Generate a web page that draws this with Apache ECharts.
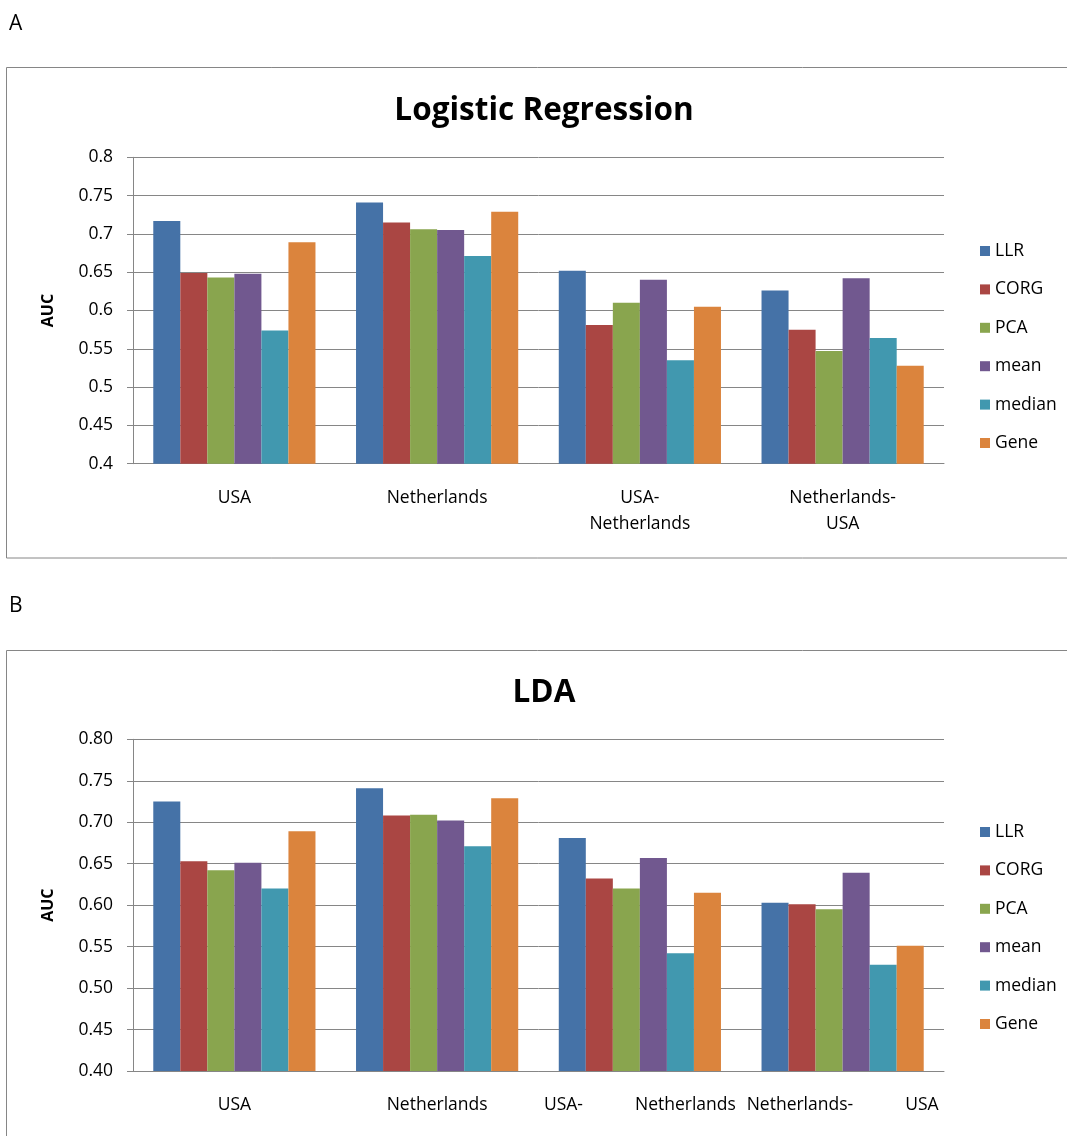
<!DOCTYPE html>
<html>
<head>
<meta charset="utf-8">
<title>AUC by method: Logistic Regression and LDA</title>
<script src="https://cdn.jsdelivr.net/npm/echarts@6/dist/echarts.min.js"></script>
<style>
  html, body { margin: 0; padding: 0; background: #ffffff; }
  #chart { width: 1067px; height: 1136px; }
</style>
</head>
<body>
<div id="chart"></div>
<script>
// Cohort categories (training-test pairs)
const categories = ['USA', 'Netherlands', 'USA-Netherlands', 'Netherlands-USA'];
const methods = ['LLR', 'CORG', 'PCA', 'mean', 'median', 'Gene'];
const yTicks = [0.4, 0.45, 0.5, 0.55, 0.6, 0.65, 0.7, 0.75, 0.8];

// Panel A: logistic regression AUC, one array per method (order follows categories)
const lrLLR    = [0.717, 0.741, 0.652, 0.626];
const lrCORG   = [0.649, 0.715, 0.581, 0.575];
const lrPCA    = [0.643, 0.706, 0.610, 0.547];
const lrMean   = [0.648, 0.705, 0.640, 0.642];
const lrMedian = [0.574, 0.671, 0.535, 0.564];
const lrGene   = [0.689, 0.729, 0.605, 0.528];

// Panel B: LDA AUC
const ldaLLR    = [0.725, 0.741, 0.681, 0.603];
const ldaCORG   = [0.653, 0.708, 0.632, 0.601];
const ldaPCA    = [0.642, 0.709, 0.620, 0.595];
const ldaMean   = [0.651, 0.702, 0.657, 0.639];
const ldaMedian = [0.620, 0.671, 0.542, 0.528];
const ldaGene   = [0.689, 0.729, 0.615, 0.551];

const lrValues  = [lrLLR, lrCORG, lrPCA, lrMean, lrMedian, lrGene];
const ldaValues = [ldaLLR, ldaCORG, ldaPCA, ldaMean, ldaMedian, ldaGene];

const colors = ['#4572A7', '#AA4643', '#89A54E', '#71588F', '#4198AF', '#DB843D'];
const FONT = '"Open Sans", "Noto Sans", sans-serif';
const GRID_LINE = '#868686';
const LABEL_SIZE = 17.5;

const chart = echarts.init(document.getElementById('chart'), null, { renderer: 'canvas' });

function yAxisFor(gridIndex, decimals) {
  return {
    gridIndex: gridIndex,
    type: 'value',
    min: yTicks[0],
    max: yTicks[yTicks.length - 1],
    interval: 0.05,
    name: 'AUC',
    nameLocation: 'middle',
    nameGap: 77,
    nameRotate: 90,
    nameTextStyle: { fontFamily: FONT, fontWeight: 'bold', fontSize: 16, color: '#000' },
    axisLine: { show: true, lineStyle: { color: GRID_LINE, width: 1 } },
    axisTick: { show: true, length: 6, lineStyle: { color: GRID_LINE } },
    axisLabel: {
      fontFamily: FONT, fontSize: LABEL_SIZE, color: '#000', margin: 20,
      formatter: function (v) {
        return decimals ? v.toFixed(2) : String(parseFloat(v.toFixed(2)));
      }
    },
    splitLine: { show: true, lineStyle: { color: GRID_LINE, width: 1 } }
  };
}

// Panel A wraps the pair names on two lines
function labelTwoLine(v) {
  return v.replace('-', '-\n');
}

// Panel B spreads the pair names across the category width on one line
function labelSpread(v) {
  const i = v.indexOf('-');
  if (i < 0) return v;
  return v.slice(0, i + 1) + '{gap| }' + v.slice(i + 1);
}

function xAxisFor(gridIndex, formatter, rich) {
  return {
    gridIndex: gridIndex,
    type: 'category',
    data: categories,
    axisLine: { show: true, lineStyle: { color: GRID_LINE, width: 1 } },
    axisTick: { show: false },
    axisLabel: {
      interval: 0,
      fontFamily: FONT, fontSize: LABEL_SIZE, color: '#000',
      lineHeight: 26, margin: 21,
      formatter: formatter,
      rich: rich
    }
  };
}

function seriesFor(values, axisIndex) {
  return methods.map(function (m, k) {
    return {
      name: m,
      type: 'bar',
      xAxisIndex: axisIndex,
      yAxisIndex: axisIndex,
      data: values[k],
      barGap: '0%',
      barCategoryGap: '20%',
      itemStyle: { color: colors[k] },
      emphasis: { disabled: true },
      animation: false
    };
  });
}

function legendFor(top) {
  return {
    orient: 'vertical',
    left: 975,
    top: top,
    itemWidth: 10,
    itemHeight: 10,
    itemGap: 18.4,
    icon: 'rect',
    data: methods,
    selectedMode: false,
    textStyle: { fontFamily: FONT, fontSize: LABEL_SIZE, color: '#000', lineHeight: 20 }
  };
}

const option = {
  backgroundColor: '#ffffff',
  color: colors,
  animation: false,
  title: [
    { text: 'A', left: 4, top: 9, textStyle: { fontFamily: FONT, fontWeight: 'normal', fontSize: 21, color: '#000' } },
    { text: 'B', left: 4, top: 591, textStyle: { fontFamily: FONT, fontWeight: 'normal', fontSize: 21, color: '#000' } },
    { text: 'Logistic Regression', left: 539, top: 86, textAlign: 'center',
      textStyle: { fontFamily: FONT, fontWeight: 'bold', fontSize: 31.5, color: '#000', lineHeight: 40 } },
    { text: 'LDA', left: 539, top: 668, textAlign: 'center',
      textStyle: { fontFamily: FONT, fontWeight: 'bold', fontSize: 31.5, color: '#000', lineHeight: 40 } }
  ],
  legend: [
    Object.assign(legendFor(236), { id: 'lgA' }),
    Object.assign(legendFor(817), { id: 'lgB' })
  ],
  grid: [
    { left: 133, top: 157.3, width: 811, height: 306.4, containLabel: false },
    { left: 133, top: 739.3, width: 811, height: 331.7, containLabel: false }
  ],
  xAxis: [
    xAxisFor(0, labelTwoLine, {}),
    xAxisFor(1, labelSpread, { gap: { width: 52, fontSize: LABEL_SIZE } })
  ],
  yAxis: [yAxisFor(0, false), yAxisFor(1, true)],
  series: seriesFor(lrValues, 0).concat(seriesFor(ldaValues, 1)),
  graphic: [
    { type: 'rect', silent: true, z: -1,
      shape: { x: 6.5, y: 67.5, width: 1100, height: 490.5 },
      style: { fill: 'none', stroke: GRID_LINE, lineWidth: 1 } },
    { type: 'rect', silent: true, z: -1,
      shape: { x: 6.5, y: 650.5, width: 1100, height: 600 },
      style: { fill: 'none', stroke: GRID_LINE, lineWidth: 1 } }
  ]
};

chart.setOption(option);
</script>
</body>
</html>
